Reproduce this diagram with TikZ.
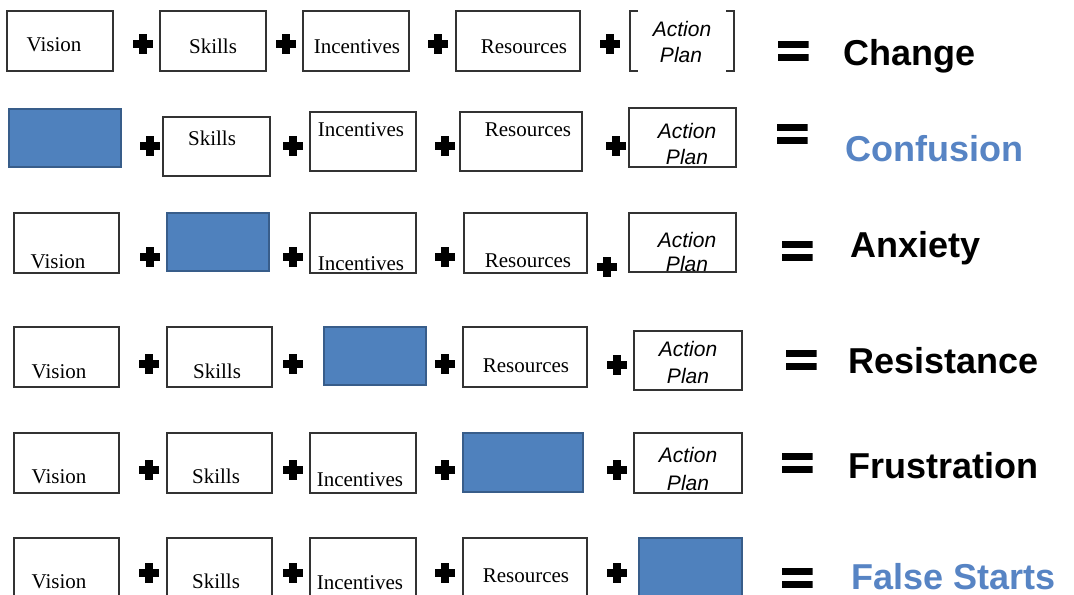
\documentclass[tikz,border=0pt]{standalone}
\usepackage{fontspec}
\setmainfont{Liberation Serif}
\newfontfamily\arialf{Liberation Sans}
\definecolor{boxblue}{HTML}{4F81BD}
\definecolor{boxblueborder}{HTML}{385D8A}
\definecolor{wordblue}{HTML}{5784C4}
\definecolor{edge}{HTML}{333333}
\newcommand\mybox[6]{\node[#6, minimum width={(#4-#2)*0.75pt}, minimum height={(#5-#3)*0.75pt}] (#1) at ({(#2+#4)/2},{(#3+#5)/2}) {};}
\tikzset{
  wbox/.style={draw=edge, line width=0.8pt, fill=white, inner sep=0, outer sep=0},
  bbox/.style={draw=boxblueborder, line width=0.8pt, fill=boxblue, inner sep=0, outer sep=0},
  nobox/.style={inner sep=0, outer sep=0},
  lab/.style={inner sep=0, anchor=base, font=\fontsize{15.75}{18}\selectfont},
  aplab/.style={inner sep=0, anchor=base, font=\arialf\itshape\fontsize{15.75}{18}\selectfont},
  word/.style={inner sep=0, anchor=base west, font=\arialf\bfseries\fontsize{27}{30}\selectfont},
  plusnode/.style={inner sep=0, outer sep=0, minimum size=15pt,
    path picture={\fill[black] ([yshift=-2.7pt]path picture bounding box.west) rectangle ++(15pt,5.4pt);
                  \fill[black] ([xshift=-2.7pt]path picture bounding box.south) rectangle ++(5.4pt,15pt);}},
  eqnode/.style={inner sep=0, outer sep=0, minimum width=23.25pt, minimum height=15pt,
    path picture={\fill[black] (path picture bounding box.north west) rectangle ++(23.25pt,-4.9pt);
                  \fill[black] (path picture bounding box.south west) rectangle ++(23.25pt,4.9pt);}},
}
\begin{document}
\begin{tikzpicture}[x=0.75pt,y=-0.75pt]
\useasboundingbox (0,0) rectangle (1074,594);
\fill[white] (0,0) rectangle (1074,594);
\clip (0,0) rectangle (1074,594);

% ---------- Row 1 ----------
\mybox{b11}{7}{11}{113}{71}{wbox}
\mybox{b12}{160}{11}{266}{71}{wbox}
\mybox{b13}{303}{11}{409}{71}{wbox}
\mybox{b14}{456}{11}{580}{71}{wbox}
\mybox{b15}{630}{11}{734}{71}{nobox}
\draw[edge, line width=0.9pt] ([xshift=6pt]b15.north west) -- (b15.north west) -- (b15.south west) -- ([xshift=6pt]b15.south west);
\draw[edge, line width=0.9pt] ([xshift=-6pt]b15.north east) -- (b15.north east) -- (b15.south east) -- ([xshift=-6pt]b15.south east);
\node[lab] (t11) at (54,51) {Vision};
\node[lab] (t12) at (213,53) {Skills};
\node[lab] (t13) at (357,53) {Incentives};
\node[lab] (t14) at (524,53) {Resources};
\node[aplab] (t15a) at (682,36) {Action};
\node[aplab] (t15b) at (681,62) {Plan};
\node[plusnode] (p11) at (143,44) {};
\node[plusnode] (p12) at (286,44) {};
\node[plusnode] (p13) at (438,44) {};
\node[plusnode] (p14) at (610,44) {};
\node[eqnode] (e1) at (793,51) {};
\node[word] (w1) at (843,65) {Change};

% ---------- Row 2 ----------
\mybox{b21}{9}{109}{121}{167}{bbox}
\mybox{b22}{163}{117}{270}{176}{wbox}
\mybox{b23}{310}{112}{416}{171}{wbox}
\mybox{b24}{460}{112}{582}{171}{wbox}
\mybox{b25}{629}{108}{736}{167}{wbox}
\node[lab] (t22) at (212,145) {Skills};
\node[lab] (t23) at (361,136) {Incentives};
\node[lab] (t24) at (528,136) {Resources};
\node[aplab] (t25a) at (687,138) {Action};
\node[aplab] (t25b) at (687,164) {Plan};
\node[plusnode] (p21) at (150,146) {};
\node[plusnode] (p22) at (293,146) {};
\node[plusnode] (p23) at (445,146) {};
\node[plusnode] (p24) at (616,146) {};
\node[eqnode] (e2) at (792,134) {};
\node[word, text=wordblue] (w2) at (845,161) {Confusion};

% ---------- Row 3 ----------
\mybox{b31}{14}{213}{119}{273}{wbox}
\mybox{b32}{167}{213}{269}{271}{bbox}
\mybox{b33}{310}{213}{416}{273}{wbox}
\mybox{b34}{464}{213}{587}{273}{wbox}
\mybox{b35}{629}{213}{736}{272}{wbox}
\node[lab] (t31) at (58,268) {Vision};
\node[lab] (t33) at (361,270) {Incentives};
\node[lab] (t34) at (528,267) {Resources};
\node[aplab] (t35a) at (687,247) {Action};
\node[aplab] (t35b) at (687,271) {Plan};
\node[plusnode] (p31) at (150,257) {};
\node[plusnode] (p32) at (293,257) {};
\node[plusnode] (p33) at (445,257) {};
\node[plusnode] (p34) at (607,267) {};
\node[eqnode] (e3) at (797,251) {};
\node[word] (w3) at (850,257) {Anxiety};

% ---------- Row 4 ----------
\mybox{b41}{14}{327}{119}{387}{wbox}
\mybox{b42}{167}{327}{272}{387}{wbox}
\mybox{b43}{324}{327}{426}{385}{bbox}
\mybox{b44}{463}{327}{587}{387}{wbox}
\mybox{b45}{634}{331}{742}{390}{wbox}
\node[lab] (t41) at (59,378) {Vision};
\node[lab] (t42) at (217,378) {Skills};
\node[lab] (t44) at (526,372) {Resources};
\node[aplab] (t45a) at (688,356) {Action};
\node[aplab] (t45b) at (688,383) {Plan};
\node[plusnode] (p41) at (149,364) {};
\node[plusnode] (p42) at (293,364) {};
\node[plusnode] (p43) at (445,364) {};
\node[plusnode] (p44) at (617,365) {};
\node[eqnode] (e4) at (801,360) {};
\node[word] (w4) at (848,373) {Resistance};

% ---------- Row 5 ----------
\mybox{b51}{14}{433}{119}{493}{wbox}
\mybox{b52}{167}{433}{272}{493}{wbox}
\mybox{b53}{310}{433}{416}{493}{wbox}
\mybox{b54}{463}{433}{583}{492}{bbox}
\mybox{b55}{634}{433}{742}{493}{wbox}
\node[lab] (t51) at (59,483) {Vision};
\node[lab] (t52) at (216,483) {Skills};
\node[lab] (t53) at (360,486) {Incentives};
\node[aplab] (t55a) at (688,462) {Action};
\node[aplab] (t55b) at (688,490) {Plan};
\node[plusnode] (p51) at (149,470) {};
\node[plusnode] (p52) at (293,470) {};
\node[plusnode] (p53) at (445,470) {};
\node[plusnode] (p54) at (617,470) {};
\node[eqnode] (e5) at (797,463) {};
\node[word] (w5) at (848,478) {Frustration};

% ---------- Row 6 ----------
\mybox{b61}{14}{538}{119}{602}{wbox}
\mybox{b62}{167}{538}{272}{602}{wbox}
\mybox{b63}{310}{538}{416}{602}{wbox}
\mybox{b64}{463}{538}{587}{602}{wbox}
\mybox{b65}{639}{538}{742}{602}{bbox}
\node[lab] (t61) at (59,588) {Vision};
\node[lab] (t62) at (216,588) {Skills};
\node[lab] (t63) at (360,589) {Incentives};
\node[lab] (t64) at (526,582) {Resources};
\node[plusnode] (p61) at (149,573) {};
\node[plusnode] (p62) at (293,573) {};
\node[plusnode] (p63) at (445,573) {};
\node[plusnode] (p64) at (617,573) {};
\node[eqnode] (e6) at (797,578) {};
\node[word, text=wordblue, text depth=0pt] (w6) at (851,589) {False Starts};
\end{tikzpicture}
\end{document}
